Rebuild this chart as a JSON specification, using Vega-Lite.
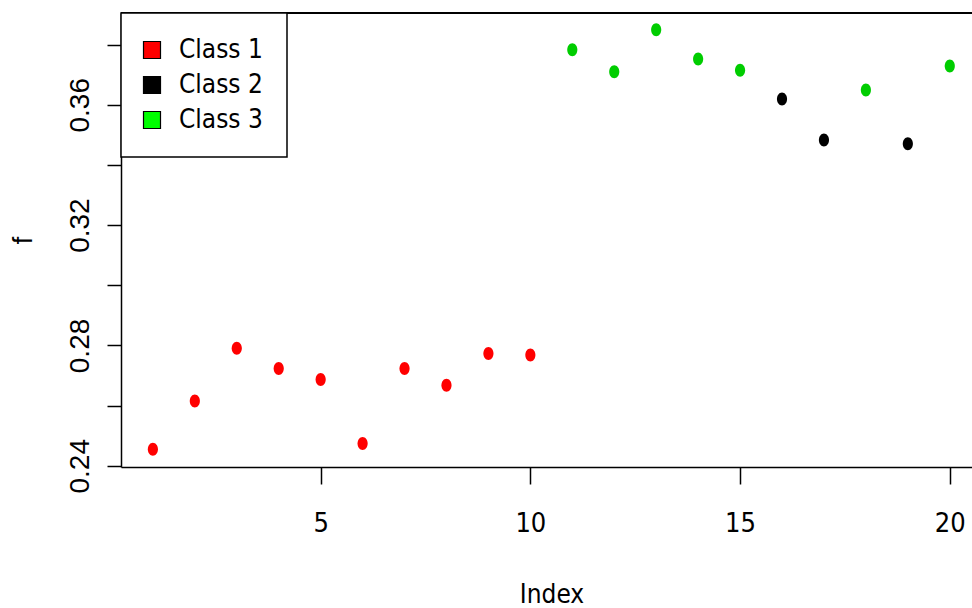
{
  "$schema": "https://vega.github.io/schema/vega-lite/v6.json",
  "autosize": {"type": "none"},
  "padding": {"left": 121, "top": 13, "right": 0, "bottom": 141},
  "width": 851,
  "height": 454,
  "background": "white",
  "config": {
    "view": {"stroke": null},
    "font": "Liberation Sans"
  },
  "data": {
    "values": [
      {"Index": 1, "f": 0.2455, "cls": "Class 1"},
      {"Index": 2, "f": 0.2615, "cls": "Class 1"},
      {"Index": 3, "f": 0.2791, "cls": "Class 1"},
      {"Index": 4, "f": 0.2723, "cls": "Class 1"},
      {"Index": 5, "f": 0.2687, "cls": "Class 1"},
      {"Index": 6, "f": 0.2474, "cls": "Class 1"},
      {"Index": 7, "f": 0.2723, "cls": "Class 1"},
      {"Index": 8, "f": 0.2668, "cls": "Class 1"},
      {"Index": 9, "f": 0.2773, "cls": "Class 1"},
      {"Index": 10, "f": 0.2768, "cls": "Class 1"},
      {"Index": 11, "f": 0.3783, "cls": "Class 3"},
      {"Index": 12, "f": 0.3710, "cls": "Class 3"},
      {"Index": 13, "f": 0.3849, "cls": "Class 3"},
      {"Index": 14, "f": 0.3752, "cls": "Class 3"},
      {"Index": 15, "f": 0.3715, "cls": "Class 3"},
      {"Index": 16, "f": 0.3619, "cls": "Class 2"},
      {"Index": 17, "f": 0.3483, "cls": "Class 2"},
      {"Index": 18, "f": 0.3649, "cls": "Class 3"},
      {"Index": 19, "f": 0.3470, "cls": "Class 2"},
      {"Index": 20, "f": 0.3729, "cls": "Class 3"}
    ]
  },
  "resolve": {"scale": {"fill": "independent"}, "legend": {"fill": "independent"}},
  "layer": [
    {
      "mark": {"type": "rule", "color": "black", "strokeWidth": 1.5},
      "encoding": {"y": {"datum": 0.3905, "type": "quantitative", "scale": {"domain": [0.2396, 0.3905]}}}
    },
    {
      "mark": {
        "type": "point",
        "filled": true,
        "opacity": 1,
        "size": 169,
        "shape": "M -0.78 0 A 0.78 1 0 1 0 0.78 0 A 0.78 1 0 1 0 -0.78 0 Z"
      },
      "encoding": {
        "x": {
          "field": "Index",
          "type": "quantitative",
          "scale": {"domain": [0.24, 20.53], "nice": false, "zero": false},
          "axis": {
            "values": [5, 10, 15, 20],
            "grid": false,
            "title": "Index",
            "domainColor": "black",
            "domainWidth": 1.5,
            "tickColor": "black",
            "tickWidth": 1.5,
            "tickSize": 17,
            "labelFont": "Liberation Sans Narrow, Arial Narrow, DejaVu Sans Condensed, Liberation Sans, sans-serif",
            "labelFontSize": 27,
            "labelColor": "black",
            "labelBaseline": "alphabetic",
            "labelPadding": 47,
            "labelFlush": false,
            "labelOverlap": false,
            "titleFont": "Liberation Sans Narrow, Arial Narrow, DejaVu Sans Condensed, Liberation Sans, sans-serif",
            "titleFontSize": 26,
            "titleFontWeight": "normal",
            "titleColor": "black",
            "titleX": 430.5,
            "titleY": 135,
            "titleBaseline": "alphabetic",
            "titleAlign": "center"
          }
        },
        "y": {
          "field": "f",
          "type": "quantitative",
          "scale": {"domain": [0.2396, 0.3905], "nice": false, "zero": false},
          "axis": {
            "values": [0.24, 0.26, 0.28, 0.30, 0.32, 0.34, 0.36, 0.38],
            "labelExpr": "round(datum.value * 100) % 4 == 0 ? format(datum.value, '.2f') : ''",
            "grid": false,
            "title": "f",
            "domainColor": "black",
            "domainWidth": 1.5,
            "tickColor": "black",
            "tickWidth": 1.5,
            "tickSize": 14,
            "labelFont": "Liberation Sans",
            "labelFontSize": 28,
            "labelColor": "black",
            "labelAngle": -90,
            "labelAlign": "center",
            "labelBaseline": "alphabetic",
            "labelPadding": 19,
            "labelFlush": false,
            "labelOverlap": false,
            "titleFont": "Liberation Sans",
            "titleFontSize": 27,
            "titleFontWeight": "normal",
            "titleColor": "black",
            "titleAngle": -90,
            "titleX": -90,
            "titleY": 227,
            "titleBaseline": "alphabetic",
            "titleAlign": "center"
          }
        },
        "fill": {
          "field": "cls",
          "type": "nominal",
          "scale": {"domain": ["Class 1", "Class 2", "Class 3"], "range": ["#FF0000", "#000000", "#00CD00"]},
          "legend": null
        }
      }
    },
    {
      "mark": {"type": "square", "opacity": 0},
      "encoding": {
        "x": {"field": "Index", "type": "quantitative"},
        "y": {"field": "f", "type": "quantitative"},
        "fill": {
          "field": "cls",
          "type": "nominal",
          "scale": {"domain": ["Class 1", "Class 2", "Class 3"], "range": ["#FF0000", "#000000", "#00FF00"]},
          "legend": {
            "title": null,
            "orient": "top-left",
            "offset": 0,
            "padding": 24,
            "strokeColor": "black",
            "fillColor": "white",
            "symbolType": "square",
            "symbolSize": 289,
            "symbolOffset": -6,
            "symbolStrokeColor": "black",
            "symbolStrokeWidth": 1.2,
            "symbolOpacity": 1,
            "labelFont": "Liberation Sans Narrow, Arial Narrow, DejaVu Sans Condensed, Liberation Sans, sans-serif",
            "labelFontSize": 26,
            "labelColor": "black",
            "labelOffset": 14,
            "rowPadding": 9,
            "labelLimit": 300,
            "encode": {
              "legend": {"update": {"strokeWidth": {"value": 1.5}}},
              "symbols": {"update": {"stroke": {"value": "black"}, "strokeWidth": {"value": 1.2}, "opacity": {"value": 1}}}
            }
          }
        }
      }
    }
  ]
}
